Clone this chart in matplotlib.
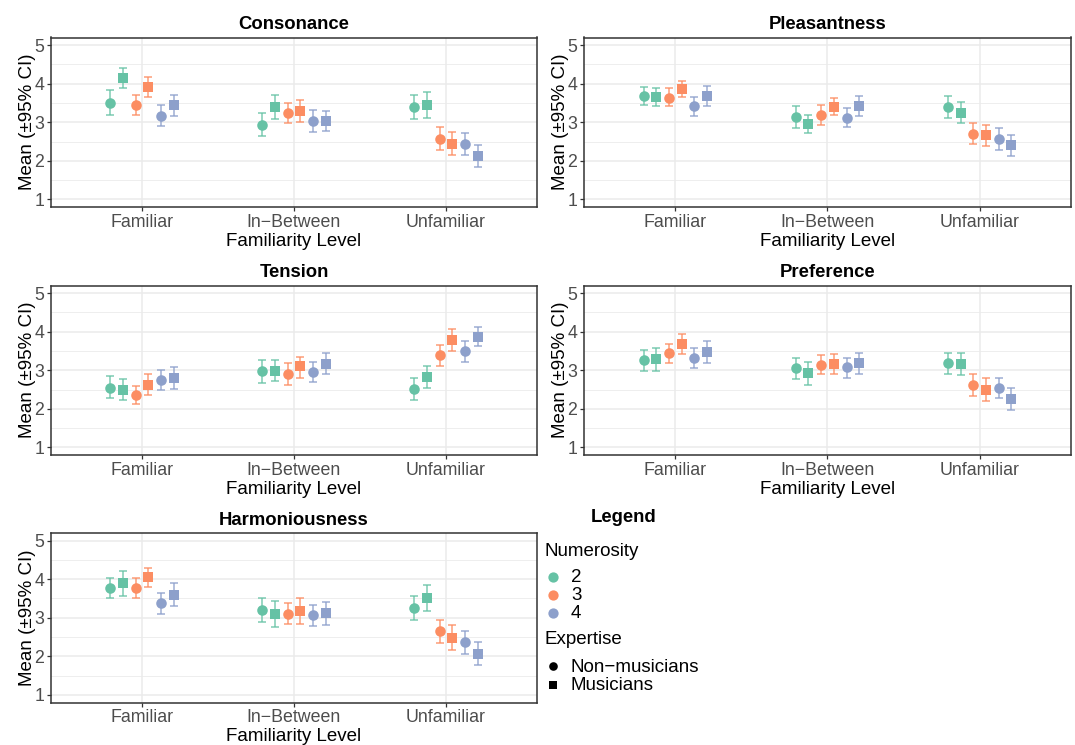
import matplotlib
matplotlib.use("Agg")
import matplotlib.pyplot as plt
from matplotlib.lines import Line2D
import numpy as np

plt.rcParams['font.family'] = ['Liberation Sans', 'DejaVu Sans']

# ---------------- data ----------------
levels = ["Familiar", "In\u2212Between", "Unfamiliar"]
numerosity = ["2", "3", "4"]
expertise = ["Non\u2212musicians", "Musicians"]
# group order within each level: (2,NM), (2,M), (3,NM), (3,M), (4,NM), (4,M)

consonance_mean = [3.51, 4.15, 3.45, 3.91, 3.17, 3.44,
                   2.93, 3.40, 3.24, 3.30, 3.03, 3.03,
                   3.39, 3.44, 2.57, 2.43, 2.43, 2.13]
consonance_lo = [3.19, 3.90, 3.18, 3.65, 2.89, 3.17,
                 2.64, 3.09, 2.97, 3.01, 2.75, 2.77,
                 3.08, 3.12, 2.29, 2.15, 2.16, 1.85]
consonance_hi = [3.83, 4.41, 3.71, 4.18, 3.45, 3.71,
                 3.24, 3.71, 3.51, 3.57, 3.31, 3.30,
                 3.70, 3.79, 2.87, 2.74, 2.72, 2.40]

pleasantness_mean = [3.69, 3.66, 3.64, 3.87, 3.41, 3.69,
                     3.13, 2.96, 3.18, 3.40, 3.12, 3.43,
                     3.40, 3.25, 2.70, 2.68, 2.56, 2.42]
pleasantness_lo = [3.46, 3.42, 3.42, 3.65, 3.16, 3.43,
                   2.84, 2.71, 2.93, 3.18, 2.87, 3.16,
                   3.12, 2.97, 2.43, 2.38, 2.28, 2.13]
pleasantness_hi = [3.92, 3.89, 3.88, 4.08, 3.66, 3.95,
                   3.42, 3.20, 3.44, 3.63, 3.37, 3.67,
                   3.69, 3.53, 2.99, 2.94, 2.85, 2.68]

tension_mean = [2.55, 2.48, 2.35, 2.62, 2.75, 2.80,
                2.97, 2.98, 2.91, 3.10, 2.95, 3.17,
                2.51, 2.82, 3.40, 3.79, 3.50, 3.87]
tension_lo = [2.27, 2.22, 2.12, 2.35, 2.48, 2.51,
              2.68, 2.72, 2.63, 2.81, 2.69, 2.89,
              2.23, 2.54, 3.12, 3.51, 3.22, 3.62]
tension_hi = [2.85, 2.76, 2.58, 2.89, 3.01, 3.09,
              3.26, 3.27, 3.18, 3.35, 3.21, 3.44,
              2.79, 3.10, 3.66, 4.06, 3.77, 4.13]

preference_mean = [3.27, 3.29, 3.44, 3.69, 3.33, 3.48,
                   3.05, 2.93, 3.14, 3.17, 3.08, 3.18,
                   3.18, 3.17, 2.61, 2.49, 2.55, 2.26]
preference_lo = [2.99, 2.99, 3.20, 3.42, 3.07, 3.19,
                 2.77, 2.63, 2.89, 2.89, 2.81, 2.91,
                 2.91, 2.87, 2.34, 2.19, 2.29, 1.97]
preference_hi = [3.53, 3.59, 3.67, 3.95, 3.58, 3.77,
                 3.31, 3.22, 3.39, 3.43, 3.33, 3.45,
                 3.46, 3.46, 2.89, 2.80, 2.80, 2.55]

harmoniousness_mean = [3.77, 3.91, 3.78, 4.06, 3.38, 3.59,
                       3.19, 3.10, 3.11, 3.18, 3.06, 3.12,
                       3.25, 3.52, 2.65, 2.48, 2.36, 2.07]
harmoniousness_lo = [3.50, 3.57, 3.51, 3.81, 3.10, 3.30,
                     2.88, 2.76, 2.83, 2.85, 2.78, 2.82,
                     2.93, 3.17, 2.35, 2.17, 2.06, 1.78]
harmoniousness_hi = [4.04, 4.22, 4.04, 4.30, 3.65, 3.89,
                     3.52, 3.44, 3.39, 3.50, 3.34, 3.42,
                     3.56, 3.86, 2.94, 2.80, 2.65, 2.36]

panels = [
    ("Consonance", consonance_mean, consonance_lo, consonance_hi),
    ("Pleasantness", pleasantness_mean, pleasantness_lo, pleasantness_hi),
    ("Tension", tension_mean, tension_lo, tension_hi),
    ("Preference", preference_mean, preference_lo, preference_hi),
    ("Harmoniousness", harmoniousness_mean, harmoniousness_lo, harmoniousness_hi),
]

# ---------------- style ----------------
colors = ["#66C2A5", "#FC8D62", "#8DA0CB"]
markers = ["o", "s"]
W, H = 1075, 745
fig = plt.figure(figsize=(W / 100, H / 100), dpi=100)

# axes boxes in pixels: (left, top, right, bottom)
boxes = [
    (51, 37.5, 537, 207),
    (584, 37.5, 1071, 207),
    (51, 285.5, 537, 455),
    (584, 285.5, 1071, 455),
    (51, 533, 537, 702.5),
]

grid_c = "#EBEBEB"
dodge = 0.0833

for (title, mean, lo, hi), (l, t, r, b) in zip(panels, boxes):
    ax = fig.add_axes([l / W, 1 - b / H, (r - l) / W, (b - t) / H])
    ax.set_xlim(0.4, 3.6)
    ax.set_ylim(0.8, 5.2)
    ax.set_yticks([1, 2, 3, 4, 5])
    ax.set_yticks([1.5, 2.5, 3.5, 4.5], minor=True)
    ax.set_xticks([1, 2, 3])
    ax.set_xticklabels(levels)
    ax.grid(True, which="major", color=grid_c, linewidth=1.1, zorder=0)
    ax.grid(True, which="minor", axis="y", color=grid_c, linewidth=0.6, zorder=0)
    ax.set_axisbelow(True)
    for s in ax.spines.values():
        s.set_color("#333333")
        s.set_linewidth(1.1)
    ax.tick_params(axis="both", which="major", length=3, width=0.9, color="#333333",
                   labelcolor="#4D4D4D", labelsize=12.8, pad=2)
    ax.tick_params(axis="both", which="minor", length=0)
    ax.set_title(title, fontsize=13.3, fontweight="bold", pad=6)
    ax.set_xlabel("Familiarity Level", fontsize=13.5, labelpad=1.2)
    ax.set_ylabel("Mean (\u00b195% CI)", fontsize=13.5, labelpad=-1)

    for li in range(len(levels)):
        for gi in range(6):
            k = li * 6 + gi
            ni, ei = gi // 2, gi % 2
            x = (li + 1) + (gi - 2.5) * dodge
            m = mean[k]
            ax.errorbar([x], [m], yerr=[[m - lo[k]], [hi[k] - m]], fmt="none",
                        ecolor=colors[ni], elinewidth=1.1, capsize=2.7, capthick=1.1,
                        alpha=0.85, zorder=2)
            ax.plot([x], [m], marker=markers[ei], color=colors[ni],
                    markersize=7.6 if ei == 0 else 7.4, linestyle="none", zorder=3,
                    markeredgewidth=0)

# ---------------- legend ----------------
def px(x, y):
    return x / W, 1 - y / H

fig.text(*px(624, 517), "Legend", fontsize=13.3, fontweight="bold", ha="center", va="center")
fig.text(*px(544, 551), "Numerosity", fontsize=13.5, ha="left", va="center")
for i, n in enumerate(numerosity):
    y = 577 + i * 18
    fig.add_artist(Line2D([553 / W], [1 - y / H], marker="o", color=colors[i],
                          markersize=7.4, markeredgewidth=0, linestyle="none"))
    fig.text(*px(571, y + 1), n, fontsize=13.5, ha="left", va="center")
fig.text(*px(544, 639), "Expertise", fontsize=13.5, ha="left", va="center")
for i, e in enumerate(expertise):
    y = 666 + i * 19
    fig.add_artist(Line2D([553 / W], [1 - y / H], marker=markers[i], color="black",
                          markersize=6.2 if i == 0 else 5.8, markeredgewidth=0, linestyle="none"))
    fig.text(*px(571, y + 1), e, fontsize=13.5, ha="left", va="center")

fig.savefig("out.png", dpi=100, facecolor="white")
